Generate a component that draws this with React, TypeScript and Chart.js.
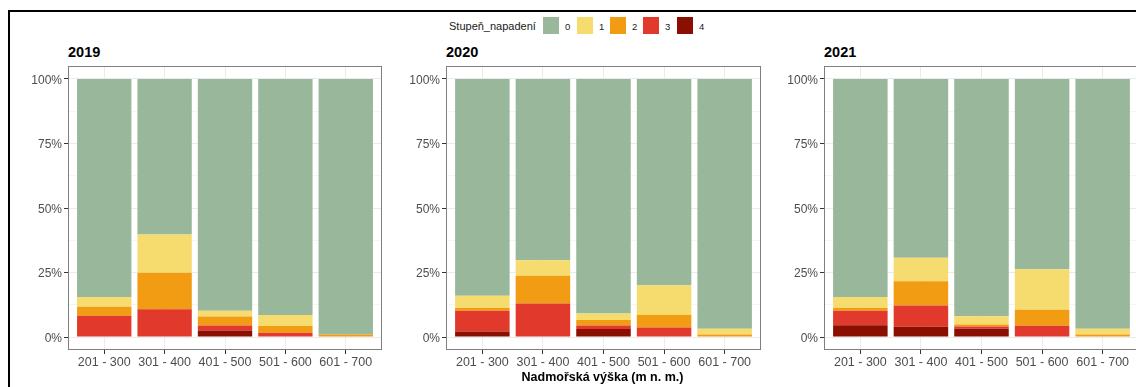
import React, { useEffect, useRef } from "react";
import { Chart, registerables } from "chart.js";

Chart.register(...registerables);

// Altitude bands on the x axis
const categories = ["201 - 300", "301 - 400", "401 - 500", "501 - 600", "601 - 700"];

// Infestation levels (legend order) and their fills
const levels = ["0", "1", "2", "3", "4"];
const levelColors = ["#99B79A", "#F6DC6E", "#F29C13", "#E1392B", "#8B0F00"];

// Percent axis: majors every 25 %, minors halfway between
const yTicks = [0, 12.5, 25, 37.5, 50, 62.5, 75, 87.5, 100];

// Shares (%) per altitude band, 2019
const y2019Level0 = [84.5, 60.3, 89.8, 91.4, 99.0];
const y2019Level1 = [3.7, 14.8, 2.2, 4.3, 0];
const y2019Level2 = [3.5, 14.1, 3.5, 2.6, 1.0];
const y2019Level3 = [8.3, 10.8, 1.9, 1.7, 0];
const y2019Level4 = [0, 0, 2.6, 0, 0];

// Shares (%) per altitude band, 2020
const y2020Level0 = [84.0, 70.2, 90.9, 79.9, 96.8];
const y2020Level1 = [4.7, 6.0, 2.5, 11.5, 2.2];
const y2020Level2 = [1.1, 10.8, 2.1, 4.9, 1.0];
const y2020Level3 = [8.0, 13.0, 1.4, 3.7, 0];
const y2020Level4 = [2.2, 0, 3.1, 0, 0];

// Shares (%) per altitude band, 2021
const y2021Level0 = [84.5, 69.3, 91.9, 73.7, 96.8];
const y2021Level1 = [4.2, 9.1, 3.2, 15.7, 2.2];
const y2021Level2 = [1.1, 9.4, 0.8, 6.2, 1.0];
const y2021Level3 = [5.6, 8.2, 0.9, 4.4, 0];
const y2021Level4 = [4.6, 4.0, 3.2, 0, 0];

const FONT = '"Liberation Sans", Arial, Helvetica, sans-serif';
const AXIS_W = 60; // room for the percent labels left of each panel
const AXIS_H = 24; // room for the band labels below each panel
const PANEL_TOP = 66;
const PANEL_H = 284;

Chart.defaults.font.family = FONT;

// ggplot-like panel border, drawn over the bars
const framePlugin = {
  id: "panelFrame",
  afterDraw(chart: any) {
    const { ctx, chartArea } = chart;
    ctx.save();
    ctx.strokeStyle = "#7f7f7f";
    ctx.lineWidth = 1;
    ctx.strokeRect(
      chartArea.left + 0.5,
      chartArea.top + 0.5,
      chartArea.right - chartArea.left - 1,
      chartArea.bottom - chartArea.top - 1
    );
    ctx.restore();
  },
};

type PanelProps = { title: string; series: number[][]; left: number; width: number };

function Panel({ title, series, left, width }: PanelProps) {
  const ref = useRef<HTMLCanvasElement>(null);

  useEffect(() => {
    const isMajor = (v: number) => v % 25 === 0;
    // stacked bottom-up: level 4 at the base, level 0 on top
    const order = [4, 3, 2, 1, 0];
    const chart = new Chart(ref.current!, {
      type: "bar",
      data: {
        datasets: order.map((l) => ({
          label: levels[l],
          data: series[l].map((v, i) => ({ x: i + 1, y: v })),
          backgroundColor: levelColors[l],
          borderWidth: 0,
          barPercentage: 0.9,
          categoryPercentage: 1,
        })),
      },
      options: {
        responsive: false,
        animation: false,
        devicePixelRatio: 1,
        layout: { padding: 0 },
        plugins: { legend: { display: false }, tooltip: { enabled: false } },
        scales: {
          x: {
            type: "linear",
            stacked: true,
            offset: false,
            min: 0.4,
            max: 5.6,
            afterBuildTicks: (s: any) => {
              s.ticks = categories.map((_, i) => ({ value: i + 1 }));
            },
            afterFit: (s: any) => {
              s.height = AXIS_H;
              s.paddingLeft = 0;
              s.paddingRight = 0;
            },
            ticks: {
              callback: (v: any) => categories[Math.round(v) - 1],
              color: "#4d4d4d",
              font: { size: 12.5, family: FONT },
              padding: 1,
              autoSkip: false,
              maxRotation: 0,
              minRotation: 0,
            },
            grid: {
              offset: false,
              color: "#ebebeb",
              lineWidth: 1,
              tickLength: 4,
              tickColor: "#333333",
              drawOnChartArea: true,
            },
            border: { display: false },
          },
          y: {
            type: "linear",
            stacked: true,
            min: -5,
            max: 105,
            afterBuildTicks: (s: any) => {
              s.ticks = yTicks.map((v) => ({ value: v }));
            },
            afterFit: (s: any) => {
              s.width = AXIS_W;
              s.paddingTop = 0;
              s.paddingBottom = 0;
            },
            ticks: {
              callback: (v: any) => (isMajor(v) ? `${v}%` : ""),
              color: "#4d4d4d",
              font: { size: 12, family: FONT },
              padding: 2,
              labelOffset: 1.5,
              autoSkip: false,
            },
            grid: {
              color: "#ebebeb",
              lineWidth: (c: any) => (c.tick && isMajor(c.tick.value) ? 1 : 0.5),
              tickLength: 4,
              tickColor: (c: any) =>
                c.tick && isMajor(c.tick.value) ? "#333333" : "rgba(0,0,0,0)",
            },
            border: { display: false },
          },
        },
      } as any,
      plugins: [framePlugin],
    });
    return () => chart.destroy();
  }, []);

  return (
    <>
      <div
        style={{
          position: "absolute",
          left,
          top: 45,
          font: `bold 14.5px ${FONT}`,
          lineHeight: "14.5px",
          color: "#000",
          whiteSpace: "nowrap",
        }}
      >
        {title}
      </div>
      <canvas
        ref={ref}
        width={AXIS_W + width}
        height={PANEL_H + AXIS_H}
        style={{
          position: "absolute",
          left: left - AXIS_W,
          top: PANEL_TOP,
          width: AXIS_W + width,
          height: PANEL_H + AXIS_H,
        }}
      />
    </>
  );
}

const legendKeyX = [543, 577, 610, 643, 677];

export default function App() {
  return (
    <div
      style={{
        position: "absolute",
        left: 0,
        top: 0,
        width: 1136,
        height: 387,
        overflow: "hidden",
        background: "#fff",
        fontFamily: FONT,
      }}
    >
      <div
        style={{
          position: "absolute",
          left: 8,
          top: 10,
          width: 1300,
          height: 500,
          border: "2px solid #000",
          boxSizing: "border-box",
        }}
      />

      {/* legend */}
      <div
        style={{
          position: "absolute",
          left: 449,
          top: 20.5,
          font: `11px ${FONT}`,
          lineHeight: "11px",
          color: "#1a1a1a",
          whiteSpace: "nowrap",
        }}
      >
        Stupeň_napadení
      </div>
      {levels.map((lv, i) => (
        <React.Fragment key={lv}>
          <div
            style={{
              position: "absolute",
              left: legendKeyX[i],
              top: 17,
              width: 16,
              height: 17,
              background: levelColors[i],
            }}
          />
          <div
            style={{
              position: "absolute",
              left: legendKeyX[i] + 22,
              top: 22,
              font: `9.5px ${FONT}`,
              lineHeight: "9.5px",
              color: "#1a1a1a",
            }}
          >
            {lv}
          </div>
        </React.Fragment>
      ))}

      <Panel
        title="2019"
        left={68}
        width={314}
        series={[y2019Level0, y2019Level1, y2019Level2, y2019Level3, y2019Level4]}
      />
      <Panel
        title="2020"
        left={446}
        width={315}
        series={[y2020Level0, y2020Level1, y2020Level2, y2020Level3, y2020Level4]}
      />
      <Panel
        title="2021"
        left={824}
        width={315}
        series={[y2021Level0, y2021Level1, y2021Level2, y2021Level3, y2021Level4]}
      />

      <div
        style={{
          position: "absolute",
          left: 602.5,
          top: 370.5,
          transform: "translateX(-50%)",
          font: `bold 12.5px ${FONT}`,
          lineHeight: "12.5px",
          color: "#000",
          whiteSpace: "nowrap",
        }}
      >
        Nadmořská výška (m n. m.)
      </div>
    </div>
  );
}
